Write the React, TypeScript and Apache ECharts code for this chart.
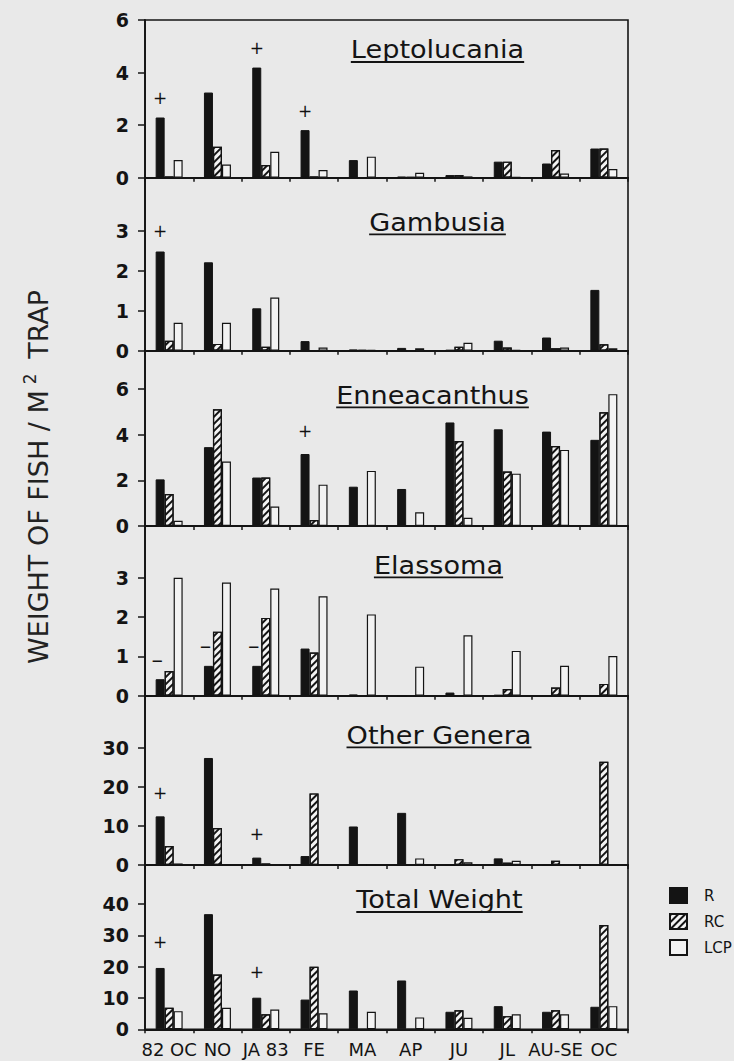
import React, { useEffect, useRef } from 'react';
import * as echarts from 'echarts';

const FONT = '"DejaVu Sans", sans-serif';
const INK = '#141414';
const PAPER = '#e9e9e9';
const BAR_FILL = '#f3f3f3';

const categories = ['82 OC', 'NO', 'JA 83', 'FE', 'MA', 'AP', 'JU', 'JL', 'AU-SE', 'OC'];
const seriesNames = ['R', 'RC', 'LCP'];
const panelTitles = ['Leptolucania', 'Gambusia', 'Enneacanthus', 'Elassoma', 'Other Genera', 'Total Weight'];
const yAxisTitle = 'WEIGHT OF FISH / M';

// Leptolucania
const lepR = [2.29, 3.24, 4.19, 1.81, 0.67, 0.04, 0.1, 0.61, 0.54, 1.11];
const lepRC = [0.05, 1.18, 0.48, 0.05, 0, 0.02, 0.1, 0.61, 1.05, 1.11];
const lepLCP = [0.67, 0.5, 0.99, 0.29, 0.8, 0.19, 0.05, 0.02, 0.16, 0.33];
const lepMarks = ['+', '', '+', '+', '', '', '', '', '', ''];

// Gambusia
const gamR = [2.48, 2.21, 1.06, 0.24, 0.03, 0.07, 0.02, 0.25, 0.33, 1.52];
const gamRC = [0.25, 0.17, 0.1, 0.01, 0.02, 0, 0.1, 0.08, 0.06, 0.16];
const gamLCP = [0.7, 0.7, 1.33, 0.08, 0.02, 0.06, 0.2, 0.02, 0.08, 0.06];
const gamMarks = ['+', '', '', '', '', '', '', '', '', ''];

// Enneacanthus
const ennR = [2.04, 3.45, 2.12, 3.15, 1.72, 1.62, 4.53, 4.23, 4.13, 3.77];
const ennRC = [1.4, 5.11, 2.12, 0.26, 0, 0, 3.72, 2.38, 3.5, 4.98];
const ennLCP = [0.23, 2.82, 0.85, 1.81, 2.41, 0.6, 0.36, 2.29, 3.33, 5.77];
const ennMarks = ['', '', '', '+', '', '', '', '', '', ''];

// Elassoma
const elaR = [0.42, 0.76, 0.76, 1.2, 0.03, 0, 0.08, 0.02, 0.01, 0.01];
const elaRC = [0.63, 1.63, 1.98, 1.1, 0, 0, 0, 0.17, 0.21, 0.3];
const elaLCP = [3.0, 2.88, 2.73, 2.53, 2.07, 0.74, 1.54, 1.14, 0.76, 1.01];
const elaMarks = ['\u2013', '\u2013', '\u2013', '', '', '', '', '', '', ''];

// Other Genera
const othR = [12.5, 27.5, 1.9, 2.3, 9.9, 13.4, 0.2, 1.7, 0.2, 0.1];
const othRC = [4.9, 9.5, 0.4, 18.4, 0, 0, 1.5, 0.6, 1.1, 26.5];
const othLCP = [0.4, 0, 0, 0, 0, 1.7, 0.7, 1.1, 0.2, 0];
const othMarks = ['+', '', '+', '', '', '', '', '', '', ''];

// Total Weight
const totR = [19.6, 36.8, 10.1, 9.5, 12.4, 15.6, 5.6, 7.4, 5.6, 7.2];
const totRC = [6.9, 17.5, 4.8, 20.0, 0, 0, 6.1, 4.2, 6.1, 33.3];
const totLCP = [5.8, 6.9, 6.3, 5.1, 5.6, 3.8, 3.7, 4.8, 4.8, 7.4];
const totMarks = ['+', '', '+', '', '', '', '', '', '', ''];

// axis extents and tick labels of the six panels
const panelMax = [6, 4.325, 7.67, 4.32, 43.5, 52.5];
const lepTicks = [0, 2, 4, 6];
const gamTicks = [0, 1, 2, 3];
const ennTicks = [0, 2, 4, 6];
const elaTicks = [0, 1, 2, 3];
const othTicks = [0, 10, 20, 30];
const totTicks = [0, 10, 20, 30, 40];

// layout (pixels)
const gridTop = [20, 177.7, 350.7, 526, 695.7, 865];
const gridHeight = [157.7, 173, 175.3, 169.7, 169.3, 164.3];
const markDistance = [11, 12, 15, 8, 15, 17];
const titleUnderlineY = [62, 234.3, 407.3, 577.3, 747.3, 912];
const titleCx = [437.5, 437.5, 432.5, 438.5, 439, 439.5];

const TITLE_SIZE = 24;
const TITLE_SCALE = 1.13;

function measure(text: string, font: string): number {
  const c = document.createElement('canvas').getContext('2d');
  if (!c) return text.length * 12;
  c.font = font;
  return c.measureText(text).width;
}

export default function App() {
  const ref = useRef<HTMLDivElement>(null);

  useEffect(() => {
    document.body.style.margin = '0';
    document.body.style.background = PAPER;
    if (!ref.current) return;
    const chart = echarts.init(ref.current, null, { renderer: 'svg' });

    const panels = [
      { r: lepR, rc: lepRC, lcp: lepLCP, marks: lepMarks, ticks: lepTicks },
      { r: gamR, rc: gamRC, lcp: gamLCP, marks: gamMarks, ticks: gamTicks },
      { r: ennR, rc: ennRC, lcp: ennLCP, marks: ennMarks, ticks: ennTicks },
      { r: elaR, rc: elaRC, lcp: elaLCP, marks: elaMarks, ticks: elaTicks },
      { r: othR, rc: othRC, lcp: othLCP, marks: othMarks, ticks: othTicks },
      { r: totR, rc: totRC, lcp: totLCP, marks: totMarks, ticks: totTicks },
    ];
    const last = panels.length - 1;

    const grid = panels.map((_, i) => ({
      left: 145,
      width: 483,
      top: gridTop[i],
      height: gridHeight[i],
      show: true,
      borderColor: INK,
      borderWidth: 1.6,
      backgroundColor: 'transparent',
    }));

    const xAxis = panels.map((_, i) => ({
      type: 'category',
      gridIndex: i,
      data: categories,
      boundaryGap: true,
      axisLine: { show: true, onZero: false, lineStyle: { color: INK, width: 1.8 } },
      axisTick: { show: true, interval: 0, length: 4, lineStyle: { color: INK, width: 1.5 } },
      axisLabel: {
        show: i === last,
        interval: 0,
        margin: 11,
        fontSize: 18,
        fontFamily: FONT,
        color: INK,
      },
      splitLine: { show: false },
    }));

    const yAxis = panels.map((p, i) => ({
      type: 'value',
      gridIndex: i,
      min: 0,
      max: panelMax[i],
      axisLine: { show: true, lineStyle: { color: INK, width: 1.8 } },
      axisTick: { show: true, length: 7, customValues: p.ticks, lineStyle: { color: INK, width: 1.5 } },
      axisLabel: {
        margin: 16,
        fontSize: 19,
        fontWeight: 'bold',
        fontFamily: FONT,
        color: INK,
        customValues: p.ticks,
      },
      splitLine: { show: false },
    }));

    const hatch = {
      symbol: 'rect',
      symbolSize: 1,
      dashArrayX: [1, 0],
      dashArrayY: [1.6, 2.2],
      rotation: -Math.PI / 4,
      color: INK,
    };

    const series: any[] = [];
    panels.forEach((p, i) => {
      series.push({
        type: 'bar',
        name: seriesNames[0],
        xAxisIndex: i,
        yAxisIndex: i,
        data: p.r,
        barWidth: 9,
        barGap: '0%',
        itemStyle: { color: INK, borderColor: INK, borderWidth: 1 },
        label: {
          show: true,
          position: 'top',
          distance: markDistance[i],
          offset: i === 3 ? [-3, 0] : [0, 0],
          formatter: (q: any) => p.marks[q.dataIndex] || '',
          fontSize: i === 3 ? 23 : 17,
          fontFamily: FONT,
          color: '#111111',
          textBorderWidth: 0,
        },
      });
      series.push({
        type: 'bar',
        name: seriesNames[1],
        xAxisIndex: i,
        yAxisIndex: i,
        data: p.rc,
        barWidth: 9,
        barGap: '0%',
        itemStyle: { color: BAR_FILL, borderColor: INK, borderWidth: 1.2, decal: hatch },
      });
      series.push({
        type: 'bar',
        name: seriesNames[2],
        xAxisIndex: i,
        yAxisIndex: i,
        data: p.lcp,
        barWidth: 9,
        barGap: '0%',
        itemStyle: { color: BAR_FILL, borderColor: INK, borderWidth: 1.2 },
      });
    });

    const titleFont = `${TITLE_SIZE}px "DejaVu Sans"`;
    const graphics: any[] = [];
    panelTitles.forEach((t, i) => {
      const w = measure(t, titleFont) * TITLE_SCALE;
      const uy = titleUnderlineY[i];
      graphics.push({
        type: 'text',
        x: titleCx[i],
        y: uy - 12,
        scaleX: TITLE_SCALE,
        style: {
          text: t,
          fontSize: TITLE_SIZE,
          fontFamily: FONT,
          fill: INK,
          align: 'center',
          verticalAlign: 'middle',
        },
      });
      graphics.push({
        type: 'line',
        shape: { x1: titleCx[i] - w / 2, y1: uy, x2: titleCx[i] + w / 2, y2: uy },
        style: { stroke: INK, lineWidth: 1.8 },
      });
    });
    graphics.push({
      type: 'text',
      x: 38,
      y: 477,
      rotation: Math.PI / 2,
      style: {
        text: `{a|${yAxisTitle}}{s|2}{a| TRAP}`,
        align: 'center',
        verticalAlign: 'middle',
        fill: '#222',
        rich: {
          a: { fontSize: 27, fontFamily: FONT, fill: '#222', lineHeight: 34 },
          s: { fontSize: 17, fontFamily: FONT, fill: '#222', verticalAlign: 'top', padding: [0, 6, 0, 6] },
        },
      },
    });

    chart.setOption({
      animation: false,
      backgroundColor: PAPER,
      grid,
      xAxis,
      yAxis,
      series,
      legend: {
        data: seriesNames,
        orient: 'vertical',
        left: 664,
        top: 882,
        itemWidth: 17,
        itemHeight: 15,
        itemGap: 9,
        icon: 'rect',
        selectedMode: false,
        textStyle: { fontSize: 15, fontFamily: FONT, color: INK, padding: [0, 0, 0, 12] },
      },
      graphic: graphics,
    });

    return () => chart.dispose();
  }, []);

  return <div ref={ref} style={{ width: 734, height: 1061, background: PAPER }} />;
}
